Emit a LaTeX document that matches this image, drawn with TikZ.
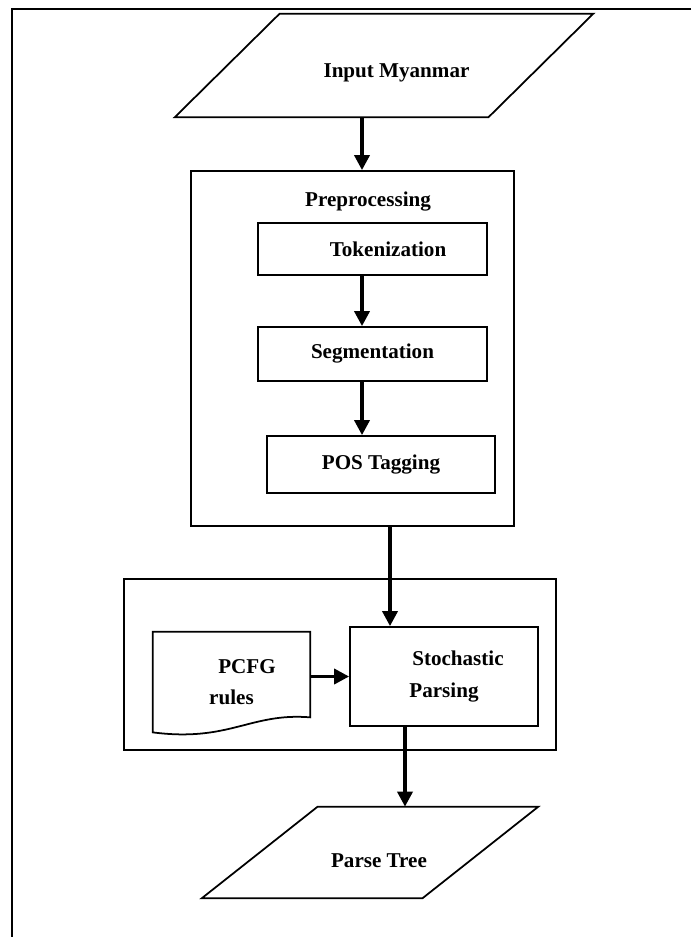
\documentclass[tikz,border=0pt]{standalone}
\usepackage{fontspec}
\setmainfont{Liberation Serif}
\usetikzlibrary{arrows.meta}

\begin{document}
\begin{tikzpicture}[x=0.2mm, y=-0.2mm,
        every node/.style={font=\bfseries\fontsize{12}{18}\selectfont, inner sep=0pt},
        box/.style={draw=black, line width=1pt},
        edge/.style={draw=black, line width=1pt},
        arr/.style={-{Triangle[width=8.5pt,length=8.5pt]}, line width=2pt}]

        % Page size and the frame round it
        \useasboundingbox (0,0) rectangle (691,937);
        \draw[line width=1.2pt] (691,9) -- (12,9) -- (12,937);

        % Draw the input and output shapes (slanted by hand)
        \node[minimum width=83.6mm, minimum height=20.6mm] (Input) at (384,65.5) {\hspace*{5mm}\raisebox{-1.4mm}[\height][\depth]{Input Myanmar}};
        \draw[edge] (Input.south west) -- ([xshift=-21mm]Input.south east) -- (Input.north east) -- ([xshift=21mm]Input.north west) -- cycle;
        \node[minimum width=67.2mm, minimum height=18.2mm] (Parse) at (370,852.5) {\hspace*{3.6mm}\raisebox{-1.7mm}[\height][\depth]{Parse Tree}};
        \draw[edge] (Parse.south west) -- ([xshift=-23.2mm]Parse.south east) -- (Parse.north east) -- ([xshift=23.2mm]Parse.north west) -- cycle;

        % Draw the preprocessing box and its steps
        \node[box, minimum width=64.6mm, minimum height=71mm] (Prep) at (352.5,348.5) {};
        \node (PrepLbl) at (368,202) {Preprocessing};
        \node[box, minimum width=45.8mm, minimum height=10.4mm] (Token) at (372.5,249) {\hspace*{6.2mm}Tokenization};
        \node[box, minimum width=45.8mm, minimum height=10.8mm] (Segment) at (372.5,354) {Segmentation};
        \node[box, minimum width=45.6mm, minimum height=11.4mm] (POSTag) at (381,464.5) {POS Tagging};

        % Draw the parsing box with the rules document
        \node[box, minimum width=86.4mm, minimum height=34.2mm] (ParseBox) at (340,664.5) {};
        \node[box, minimum width=37.6mm, minimum height=19.8mm, align=center] (Stoch) at (444,676.5) {\hspace*{5.6mm}Stochastic\\Parsing};
        \node[minimum width=31.4mm, minimum height=20mm, align=center] (PCFG) at (231.5,682) {\hspace*{6.2mm}PCFG\\rules};
        \draw[edge] (PCFG.south west) -- (PCFG.north west) -- (PCFG.north east) -- ([yshift=3mm]PCFG.south east)
            .. controls +(-60,-5) and +(77,10) .. cycle;

        % Columns of the arrows
        \coordinate (ColA) at (362,0);
        \coordinate (ColB) at (390,0);
        \coordinate (ColC) at (405,0);

        % Draw the arrows
        \draw[arr] (Input.south -| ColA) -- (Prep.north -| ColA);
        \draw[arr] (Token.south -| ColA) -- (Segment.north -| ColA);
        \draw[arr] (Segment.south -| ColA) -- (POSTag.north -| ColA);
        \draw[arr] (Prep.south -| ColB) -- (Stoch.north -| ColB);
        \draw[arr] (PCFG.east |- Stoch.west) -- (Stoch.west);
        \draw[arr] (Stoch.south -| ColC) -- (Parse.north -| ColC);

\end{tikzpicture}
\end{document}
